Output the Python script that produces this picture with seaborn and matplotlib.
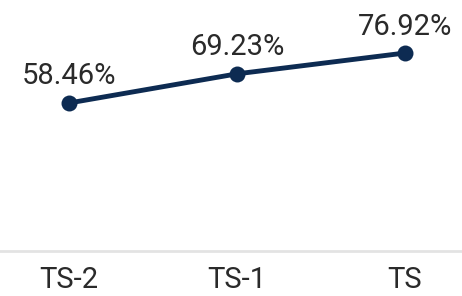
import matplotlib
matplotlib.use("Agg")
import matplotlib.pyplot as plt
import pandas as pd
import seaborn as sns

periods = ["TS-2", "TS-1", "TS"]
rates = [58.46, 69.23, 76.92]
labels = ["58.46%", "69.23%", "76.92%"]

sns.set_style("white")
plt.rcParams['font.family'] = ['Roboto', 'DejaVu Sans']

df = pd.DataFrame({"period": periods, "rate": rates})

fig = plt.figure(figsize=(4.62, 2.96), dpi=100)
ax = fig.add_axes([0, 45 / 296, 1, 251 / 296])

sns.lineplot(data=df, x="period", y="rate", ax=ax, color="#0d2b52",
             linewidth=3.5, marker="o", markersize=11.5, markeredgewidth=0)

for i, (v, t) in enumerate(zip(rates, labels)):
    ax.annotate(t, xy=(i, v), xytext=(0, 9), textcoords="offset points",
                ha="center", va="bottom", fontsize=21, color="#2a2a2a")

ax.set_xlim(-69 / 168, 393 / 168)
ax.set_ylim(3.8, 96.5)
ax.set_xlabel("")
ax.set_ylabel("")
ax.set_yticks([])
for s in ["top", "left", "right"]:
    ax.spines[s].set_visible(False)
ax.spines["bottom"].set_color("#e3e3e3")
ax.spines["bottom"].set_linewidth(2)
ax.tick_params(axis="x", length=0, pad=11, labelsize=21, labelcolor="#2a2a2a")

fig.savefig("out.png", dpi=100)
